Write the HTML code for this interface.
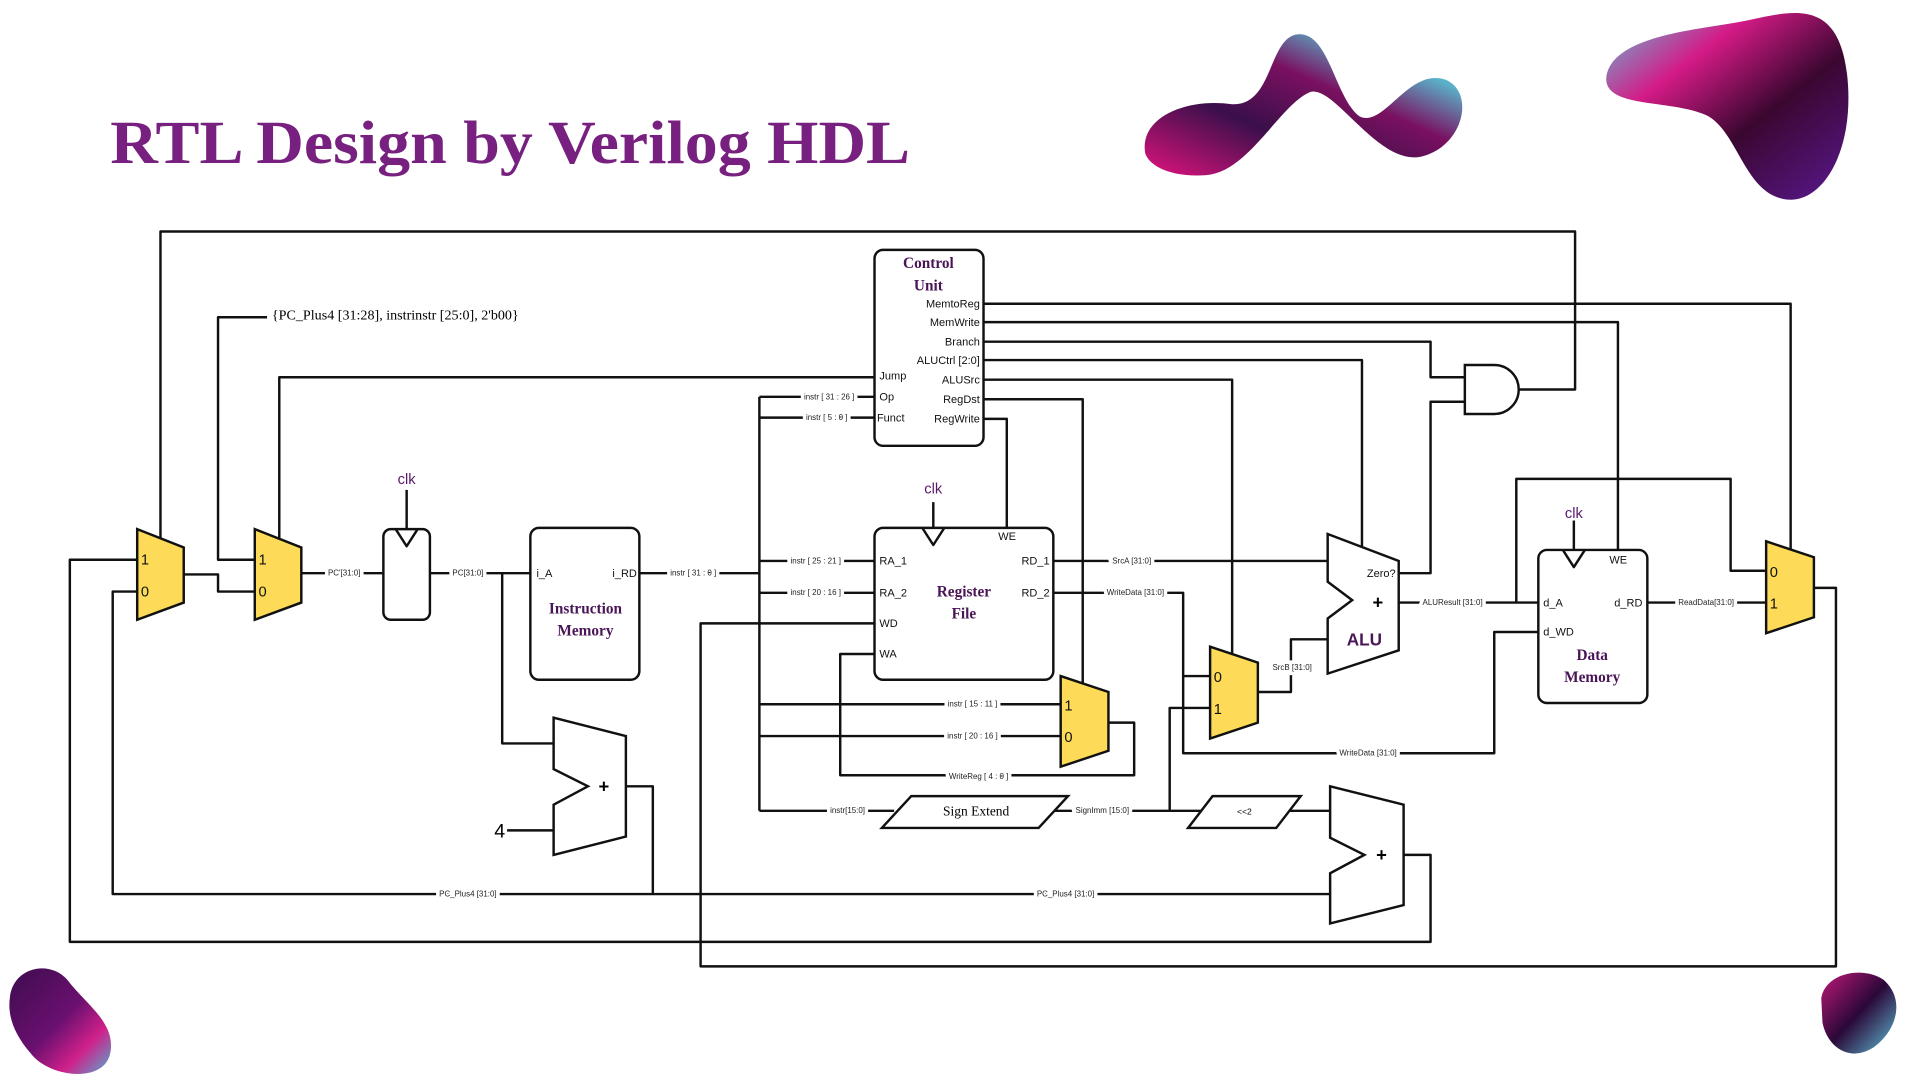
<!DOCTYPE html>
<html><head><meta charset="utf-8"><style>
html,body{margin:0;padding:0;background:#fff;width:1920px;height:1080px;overflow:hidden}
svg{display:block}
.w{fill:none;stroke:#111;stroke-width:2;stroke-linejoin:round}
.l{font-family:"Liberation Sans",sans-serif;font-size:6.5px;fill:#222;paint-order:stroke;stroke:#fff;stroke-width:6px}
.p{font-family:"Liberation Sans",sans-serif;font-size:9px;fill:#111}
.b{font-family:"Liberation Serif",serif;font-weight:bold;font-size:12.5px;fill:#4a1556;text-anchor:middle}
.m{font-family:"Liberation Sans",sans-serif;font-size:12px;fill:#111}
.y{fill:#fddb58;stroke:#111;stroke-width:2}
.box{fill:#fff;stroke:#111;stroke-width:2}
.clk{font-family:"Liberation Sans",sans-serif;font-size:12px;fill:#5a1a6a;text-anchor:middle}
</style></head><body>
<svg width="1920" height="1080" viewBox="0 0 1567.6 881.8" xmlns="http://www.w3.org/2000/svg">
<defs>
<linearGradient id="g1" x1="0" y1="1" x2="1" y2="0"><stop offset="0" stop-color="#e0137f"/><stop offset="0.35" stop-color="#3a0f4a"/><stop offset="0.6" stop-color="#7a1060"/><stop offset="0.8" stop-color="#5ab0c8"/><stop offset="1" stop-color="#6fd8e6"/></linearGradient>
<linearGradient id="g2" x1="0" y1="0" x2="1" y2="1"><stop offset="0" stop-color="#5fc4da"/><stop offset="0.3" stop-color="#d41a86"/><stop offset="0.6" stop-color="#3a0730"/><stop offset="1" stop-color="#5a1890"/></linearGradient>
<linearGradient id="g3" x1="0" y1="0" x2="1" y2="1"><stop offset="0" stop-color="#3d0c4d"/><stop offset="0.5" stop-color="#6a1070"/><stop offset="0.75" stop-color="#d0208a"/><stop offset="1" stop-color="#50b0d0"/></linearGradient>
<linearGradient id="g4" x1="0" y1="0" x2="1" y2="1"><stop offset="0" stop-color="#c0187a"/><stop offset="0.5" stop-color="#2a0838"/><stop offset="1" stop-color="#60c0d8"/></linearGradient>
</defs>
<path d="M935,125 C930,95 970,80 1005,85 C1040,88 1035,30 1060,28 C1085,26 1090,80 1110,95 C1130,105 1150,55 1180,65 C1205,75 1195,120 1160,128 C1125,135 1090,70 1070,75 C1045,85 1020,140 985,143 C955,145 938,135 935,125Z" fill="url(#g1)"/>
<path d="M1312,60 C1320,30 1380,25 1420,18 C1460,10 1500,-5 1508,60 C1515,120 1490,165 1460,163 C1425,160 1420,110 1395,95 C1365,80 1305,90 1312,60Z" fill="url(#g2)"/>
<path d="M8,815 C10,790 40,783 55,800 C70,820 95,835 90,860 C85,885 40,880 25,860 C12,845 6,830 8,815Z" fill="url(#g3)"/>
<path d="M1487,815 C1490,795 1520,788 1538,800 C1555,815 1550,840 1530,855 C1510,868 1492,855 1488,835Z" fill="url(#g4)"/>
<text x="90" y="133" font-family="Liberation Serif,serif" font-weight="bold" font-size="50" fill="#78207f" textLength="653" lengthAdjust="spacingAndGlyphs">RTL Design by Verilog HDL</text>

<g class="w">
<path d="M131,440 V189 H1286 V318 H1240"/>
<path d="M150,469 H178 V483 H208"/>
<path d="M208,457 H178 V259 H218"/>
<path d="M228,440 V308 H714"/>
<path d="M246,468 H313"/>
<path d="M332,400 V432"/>
<path d="M351,468 H433"/>
<path d="M410,468 V607 H452"/>
<path d="M522,468 H595 H620"/>
<path d="M620,324 V662"/>
<path d="M620,324 H714 M620,341 H714 M620,458 H714 M620,484 H714 M620,575 H866 M620,601 H866 M620,662 H730"/>
<path d="M803,248 H1462 V450"/>
<path d="M803,263 H1321 V450"/>
<path d="M803,279 H1168 V308 H1196"/>
<path d="M803,294 H1112 V448"/>
<path d="M803,310 H1006 V534"/>
<path d="M803,326 H884 V558"/>
<path d="M803,342 H822 V431"/>
<path d="M1142,468 H1168 V328 H1196"/>
<path d="M762,410 V431"/>
<path d="M860,458 H1084"/>
<path d="M860,484 H966 V552 H988"/>
<path d="M966,552 V615 H1220 V516 H1256"/>
<path d="M1027,565 H1054 V522 H1084"/>
<path d="M988,578 H955 V662"/>
<path d="M860,662 H985"/>
<path d="M1052,662 H1086"/>
<path d="M1142,492 H1256"/>
<path d="M1238,492 V391 H1413 V466 H1442"/>
<path d="M1285,425 V450"/>
<path d="M1345,492 H1442"/>
<path d="M1481,480 H1499 V789 H572 V509 H714"/>
<path d="M905,590 H926 V633 H686 V534 H714"/>
<path d="M414,678 H452"/>
<path d="M511,642 H533 V730 H92 V483 H112"/>
<path d="M533,730 H1086"/>
<path d="M1146,698 H1168 V769 H57 V457 H112"/>
</g>

<polygon class="y" points="112,432 150,447 150,492 112,506"/>
<text class="m" x="115" y="461">1</text><text class="m" x="115" y="487">0</text>
<polygon class="y" points="208,432 246,447 246,492 208,506"/>
<text class="m" x="211" y="461">1</text><text class="m" x="211" y="487">0</text>
<polygon class="y" points="988,528 1027,541 1027,590 988,603"/>
<text class="m" x="991" y="557">0</text><text class="m" x="991" y="583">1</text>
<polygon class="y" points="1442,442 1481,455 1481,504 1442,517"/>
<text class="m" x="1445" y="471">0</text><text class="m" x="1445" y="497">1</text>
<polygon class="y" points="866,552 905,565 905,613 866,626"/>
<text class="m" x="869" y="580">1</text><text class="m" x="869" y="606">0</text>

<rect class="box" x="313" y="432" width="38" height="74" rx="6"/>
<path class="w" d="M323,432 L332,446 L341,432"/>
<text class="clk" x="332" y="395">clk</text>

<rect class="box" x="433" y="431" width="89" height="124" rx="7"/>
<text class="p" x="438" y="471">i_A</text><text class="p" x="500" y="471">i_RD</text>
<text class="b" x="478" y="501">Instruction</text><text class="b" x="478" y="519">Memory</text>

<rect class="box" x="714" y="204" width="89" height="160" rx="7"/>
<text class="b" x="758" y="219">Control</text><text class="b" x="758" y="237">Unit</text>
<g class="p" text-anchor="end">
<text x="800" y="251">MemtoReg</text><text x="800" y="266">MemWrite</text><text x="800" y="282">Branch</text>
<text x="800" y="297">ALUCtrl [2:0]</text><text x="800" y="313">ALUSrc</text><text x="800" y="329">RegDst</text><text x="800" y="345">RegWrite</text>
</g>
<text class="p" x="718" y="310">Jump</text><text class="p" x="718" y="327">Op</text><text class="p" x="716" y="344">Funct</text>

<path class="box" d="M1196,298 H1220 A20,20 0 0 1 1220,338 H1196 Z"/>

<rect class="box" x="714" y="431" width="146" height="124" rx="7"/>
<path class="w" d="M753,431 L762,445 L771,431"/>
<text class="clk" x="762" y="403">clk</text>
<text class="p" x="718" y="461">RA_1</text><text class="p" x="718" y="487">RA_2</text>
<text class="p" x="718" y="512">WD</text><text class="p" x="718" y="537">WA</text>
<text class="p" x="857" y="461" text-anchor="end">RD_1</text><text class="p" x="857" y="487" text-anchor="end">RD_2</text>
<text class="p" x="815" y="441">WE</text>
<text class="b" x="787" y="487">Register</text><text class="b" x="787" y="505">File</text>

<polygon class="box" points="1084,436 1142,458 1142,531 1084,550 1084,505 1104,490 1084,475"/>
<text x="1125" y="497" font-family="Liberation Sans,sans-serif" font-weight="bold" font-size="15" text-anchor="middle">+</text>
<text x="1114" y="527" font-family="Liberation Sans,sans-serif" font-weight="bold" font-size="14" fill="#4a1556" text-anchor="middle">ALU</text>
<text class="p" x="1116" y="471">Zero?</text>

<rect class="box" x="1256" y="449" width="89" height="125" rx="7"/>
<path class="w" d="M1276,449 L1285,463 L1294,449"/>
<text class="clk" x="1285" y="423">clk</text>
<text class="p" x="1314" y="460">WE</text>
<text class="p" x="1260" y="495">d_A</text><text class="p" x="1260" y="519">d_WD</text>
<text class="p" x="1341" y="495" text-anchor="end">d_RD</text>
<text class="b" x="1300" y="539">Data</text><text class="b" x="1300" y="557">Memory</text>

<polygon class="box" points="452,586 511,601 511,683 452,698 452,657 480,642 452,628"/>
<text x="493" y="647" font-family="Liberation Sans,sans-serif" font-weight="bold" font-size="15" text-anchor="middle">+</text>
<text x="408" y="684" font-family="Liberation Sans,sans-serif" font-size="16" text-anchor="middle">4</text>
<polygon class="box" points="1086,642 1146,657 1146,739 1086,754 1086,713 1114,698 1086,684"/>
<text x="1128" y="703" font-family="Liberation Sans,sans-serif" font-weight="bold" font-size="15" text-anchor="middle">+</text>

<polygon class="box" points="720,676 744,650 872,650 848,676"/>
<text x="797" y="666" font-family="Liberation Serif,serif" font-size="11" text-anchor="middle">Sign Extend</text>
<polygon class="box" points="970,676 990,650 1062,650 1042,676"/>
<text x="1016" y="665" font-family="Liberation Sans,sans-serif" font-size="7" text-anchor="middle">&lt;&lt;2</text>

<text x="222" y="261" font-family="Liberation Serif,serif" font-size="11.5">{PC_Plus4 [31:28], instrinstr [25:0], 2'b00}</text>

<g class="l" text-anchor="middle">
<text x="281" y="470">PC'[31:0]</text>
<text x="382" y="470">PC[31:0]</text>
<text x="566" y="470">instr [ 31 : 0 ]</text>
<text x="677" y="326">instr [ 31 : 26 ]</text>
<text x="675" y="343">instr [ 5 : 0 ]</text>
<text x="666" y="460">instr [ 25 : 21 ]</text>
<text x="666" y="486">instr [ 20 : 16 ]</text>
<text x="794" y="577">instr [ 15 : 11 ]</text>
<text x="794" y="603">instr [ 20 : 16 ]</text>
<text x="799" y="636">WriteReg [ 4 : 0 ]</text>
<text x="692" y="664">instr[15:0]</text>
<text x="900" y="664">SignImm [15:0]</text>
<text x="924" y="460">SrcA [31:0]</text>
<text x="927" y="486">WriteData [31:0]</text>
<text x="1055" y="547">SrcB [31:0]</text>
<text x="1117" y="617">WriteData [31:0]</text>
<text x="1186" y="494">ALUResult [31:0]</text>
<text x="1393" y="494">ReadData[31:0]</text>
<text x="382" y="732">PC_Plus4 [31:0]</text>
<text x="870" y="732">PC_Plus4 [31:0]</text>
</g>
</svg>
</body></html>
